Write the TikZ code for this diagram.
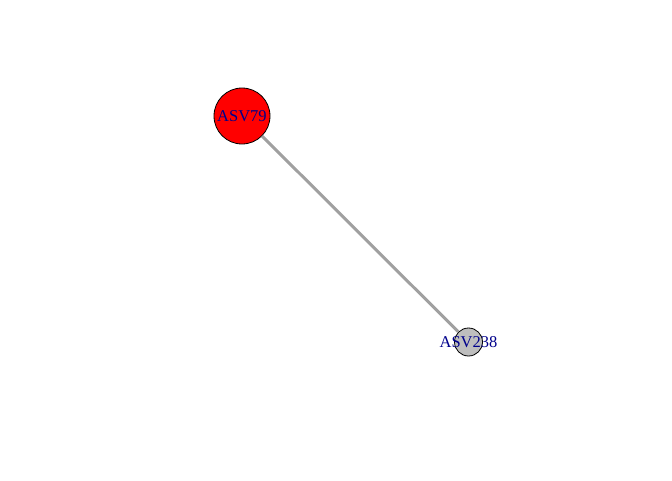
\documentclass[tikz,border=0pt]{standalone}
\usepackage{fontspec}
\setmainfont{Liberation Serif}
\usepackage{tikz}
\definecolor{asvred}{HTML}{FF0000}
\definecolor{asvgrey}{HTML}{BEBEBE}
\definecolor{edgegrey}{HTML}{A0A0A0}
\definecolor{labelblue}{HTML}{00008B}
\tikzset{
  asv/.style={circle,draw=black,line width=0.8pt,inner sep=0pt},
  asvlabel/.style={text=labelblue,font=\fontsize{16.5}{16.5}\selectfont},
  link/.style={draw=edgegrey,line width=3pt}
}

\begin{document}
\begin{tikzpicture}[x=1pt,y=-1pt]
\useasboundingbox (0,0) rectangle (672,480);
\node[asv,fill=asvred,minimum size=56pt] (a79) at (242,116) {};
\node[asv,fill=asvgrey,minimum size=28pt] (a238) at (468.5,342) {};
\draw[link] (a79) -- (a238);
\node[asvlabel] (l79) at (a79.center) {ASV79};
\node[asvlabel] (l238) at (a238.center) {ASV238};
\end{tikzpicture}
\end{document}
